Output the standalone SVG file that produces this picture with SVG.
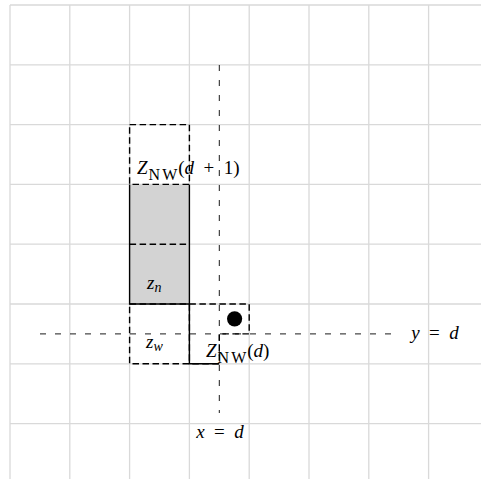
<svg xmlns="http://www.w3.org/2000/svg" width="481" height="479" viewBox="0 0 481 479">
<style>
.grid{stroke:#d9d9d9;stroke-width:1.3;fill:none}
.box{stroke:#000;stroke-width:1.4;fill:none;stroke-dasharray:6.5 3.5}
.solid{stroke:#000;stroke-width:1.4;fill:none}
.axis{stroke:#000;stroke-width:0.9;fill:none;stroke-dasharray:6 9}
text{font-family:"Liberation Serif",serif;font-size:19px;fill:#000}
.it{font-style:italic}
.sub{font-size:14px}
.nw{font-size:16px;letter-spacing:2px}
</style>
<rect width="481" height="479" fill="#fff"/>
<g id="grid" class="grid">
<path d="M10,5V479M69.8,5V479M129.6,5V479M189.4,5V479M249.2,5V479M309,5V479M368.8,5V479M428.6,5V479"/>
<path d="M10,5H481M10,64.8H481M10,124.6H481M10,184.4H481M10,244.2H481M10,304H481M10,363.8H481M10,423.6H481"/>
</g>
<g id="shaded">
<rect x="129.6" y="184.4" width="59.8" height="119.6" fill="#d3d3d3"/>
</g>
<g id="connectors">
<path class="axis" d="M219.3,65V413"/>
<path class="axis" d="M40,333.9H392"/>
</g>
<g id="cells">
<rect class="box" x="129.6" y="124.6" width="59.8" height="59.8"/>
<path class="box" d="M129.6,244.2H189.4"/>
<rect class="box" x="129.6" y="304" width="59.8" height="59.8"/>
<path class="box" d="M189.4,304H249.2V333.9H219.3V363.8H189.4"/>
<path class="solid" d="M129.6,184.4V304H189.4M189.4,184.4V363.8H219.3"/>
</g>
<g id="point"><circle cx="234.6" cy="318.8" r="7.6" fill="#000"/></g>
<g id="labels">
<text x="137" y="174" xml:space="preserve"><tspan class="it">Z</tspan><tspan class="nw" dx="1" dy="6">NW</tspan><tspan dx="-1" dy="-6">(</tspan><tspan class="it">d</tspan>  +  1)</text>
<text x="147" y="289"><tspan class="it">z</tspan><tspan class="it sub" dy="3">n</tspan></text>
<text x="146" y="348"><tspan class="it">z</tspan><tspan class="it sub" dy="3">w</tspan></text>
<text x="206" y="357"><tspan class="it">Z</tspan><tspan class="nw" dx="1" dy="6">NW</tspan><tspan dx="-1" dy="-6">(</tspan><tspan class="it">d</tspan>)</text>
<text x="220" y="438" text-anchor="middle" xml:space="preserve"><tspan class="it">x</tspan>  =  <tspan class="it">d</tspan></text>
<text x="435" y="339" text-anchor="middle" xml:space="preserve"><tspan class="it">y</tspan>  =  <tspan class="it">d</tspan></text>
</g>
</svg>
